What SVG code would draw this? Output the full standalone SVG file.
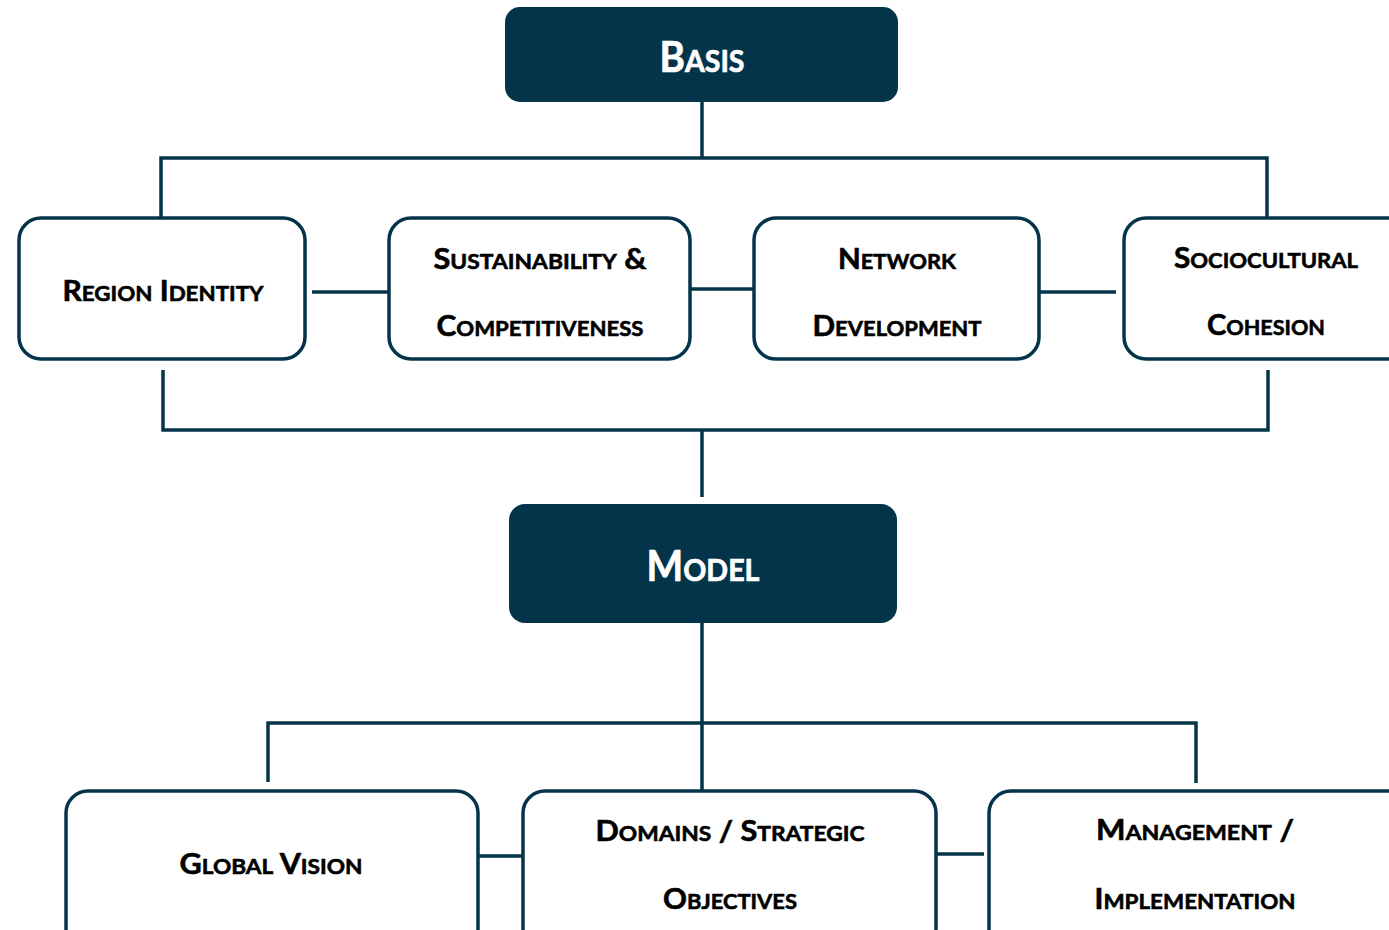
<svg xmlns="http://www.w3.org/2000/svg" width="1389" height="930" viewBox="0 0 1389 930">
<style>
.dark{fill:#04344A;}
.box{fill:#ffffff;stroke:#04344A;stroke-width:3.5;}
.conn{fill:none;stroke:#04344A;stroke-width:3.5;stroke-linecap:butt;stroke-linejoin:miter;}
.t{font-family:Lato,"Liberation Sans",sans-serif;font-weight:bold;fill:#000000;stroke:#000000;stroke-width:0.6;text-anchor:middle;font-size:29px;}
.t .s{font-size:21.5px;}
.h{font-family:Lato,"Liberation Sans",sans-serif;font-weight:bold;fill:#ffffff;stroke:#ffffff;stroke-width:0.7;text-anchor:middle;font-size:42px;}
.h .s{font-size:31px;}
</style>
<rect width="1389" height="930" fill="#ffffff"/>
<g id="connectors">
<path class="conn" d="M702,102 V158 M161,218 V158 H1267 V218"/>
<path class="conn" d="M312,292 H389 M690,289 H754 M1039,292 H1116"/>
<path class="conn" d="M163,370 V430 H1268 V370 M702,430 V497"/>
<path class="conn" d="M702,623 V790 M268,782 V723 H1196 V783"/>
<path class="conn" d="M478,856 H523 M936,854 H984"/>
</g>
<g id="basis">
<rect class="dark" x="505" y="7" width="393" height="95" rx="15"/>
<text class="h" x="702" y="72" textLength="85" lengthAdjust="spacingAndGlyphs">B<tspan class="s">ASIS</tspan></text>
</g>
<g id="region-identity">
<rect class="box" x="19" y="218" width="286" height="141" rx="22"/>
<text class="t" x="163" y="301" textLength="201" lengthAdjust="spacingAndGlyphs">R<tspan class="s">EGION</tspan> I<tspan class="s">DENTITY</tspan></text>
</g>
<g id="sustainability">
<rect class="box" x="389" y="218" width="301" height="141" rx="22"/>
<text class="t" x="540" y="269" textLength="213" lengthAdjust="spacingAndGlyphs">S<tspan class="s">USTAINABILITY</tspan> &amp;</text>
<text class="t" x="540" y="336" textLength="207" lengthAdjust="spacingAndGlyphs">C<tspan class="s">OMPETITIVENESS</tspan></text>
</g>
<g id="network">
<rect class="box" x="754" y="218" width="285" height="141" rx="22"/>
<text class="t" x="897" y="269" textLength="118" lengthAdjust="spacingAndGlyphs">N<tspan class="s">ETWORK</tspan></text>
<text class="t" x="897" y="336" textLength="169" lengthAdjust="spacingAndGlyphs">D<tspan class="s">EVELOPMENT</tspan></text>
</g>
<g id="sociocultural">
<rect class="box" x="1124" y="218" width="290" height="141" rx="22"/>
<text class="t" x="1266" y="268" textLength="184" lengthAdjust="spacingAndGlyphs">S<tspan class="s">OCIOCULTURAL</tspan></text>
<text class="t" x="1266" y="335" textLength="118" lengthAdjust="spacingAndGlyphs">C<tspan class="s">OHESION</tspan></text>
</g>
<g id="model">
<rect class="dark" x="509" y="504" width="388" height="119" rx="16"/>
<text class="h" x="703" y="581" textLength="113" lengthAdjust="spacingAndGlyphs">M<tspan class="s">ODEL</tspan></text>
</g>
<g id="global-vision">
<rect class="box" x="66" y="791" width="412" height="160" rx="22"/>
<text class="t" x="271" y="874" textLength="183" lengthAdjust="spacingAndGlyphs">G<tspan class="s">LOBAL</tspan> V<tspan class="s">ISION</tspan></text>
</g>
<g id="domains">
<rect class="box" x="523" y="791" width="413" height="160" rx="22"/>
<text class="t" x="730" y="841" textLength="269" lengthAdjust="spacingAndGlyphs">D<tspan class="s">OMAINS</tspan> / S<tspan class="s">TRATEGIC</tspan></text>
<text class="t" x="730" y="909" textLength="134" lengthAdjust="spacingAndGlyphs">O<tspan class="s">BJECTIVES</tspan></text>
</g>
<g id="management">
<rect class="box" x="989" y="791" width="420" height="160" rx="22"/>
<text class="t" x="1195" y="840" textLength="198" lengthAdjust="spacingAndGlyphs">M<tspan class="s">ANAGEMENT</tspan> /</text>
<text class="t" x="1195" y="909" textLength="201" lengthAdjust="spacingAndGlyphs">I<tspan class="s">MPLEMENTATION</tspan></text>
</g>
</svg>
